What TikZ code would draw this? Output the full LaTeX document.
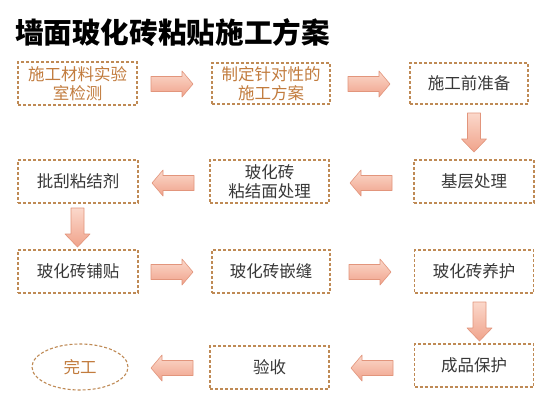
\documentclass[tikz,border=0pt]{standalone}
\usepackage{fontspec}
\setmainfont{Noto Sans CJK SC}
\usetikzlibrary{calc,shapes.geometric}
\definecolor{boxline}{HTML}{BF8A55}
\definecolor{orangetext}{HTML}{C27C3E}
\definecolor{darktext}{HTML}{383838}
\definecolor{arrowtop}{HTML}{FBD8CB}
\definecolor{arrowbot}{HTML}{F0A38B}
\definecolor{arrowline}{HTML}{E2957C}
\tikzset{
  box/.style={draw=boxline, line width=1.1pt, dash pattern=on 3pt off 2pt,
    minimum width=119pt, minimum height=43pt, inner sep=0pt, align=center,
    text=darktext, font=\fontsize{16.5}{19.5}\selectfont},
  otext/.style={text=orangetext},
  endoval/.style={draw=boxline, line width=1.1pt, dash pattern=on 3pt off 2pt,
    ellipse, minimum width=96pt, minimum height=46pt, inner sep=0pt,
    text=orangetext, font=\fontsize{16.5}{19.5}\selectfont},
  barrowstyle/.style={draw=arrowline, line width=0.6pt, top color=arrowtop, bottom color=arrowbot, line join=round},
  titletext/.style={font=\fontsize{28.6}{32}\selectfont\bfseries, text=black, inner sep=0pt, anchor=west}
}
\newcommand\blockarrow[6]{%
  \path[barrowstyle, shift={(#1)}, rotate=#2]
    (0,-#4) -- ({#3-#6},-#4) -- ({#3-#6},-#5) -- (#3,0) -- ({#3-#6},#5) -- ({#3-#6},#4) -- (0,#4) -- cycle;}
\begin{document}
\begin{tikzpicture}[x=1pt,y=-1pt]
\useasboundingbox[fill=white] (0,0) rectangle (554,405);
\node[titletext] (title) at (15,33) {墙面玻化砖粘贴施工方案};
% row 1
\node[box,otext] (b1) at (77.5,83.5) {施工材料实验\\室检测};
\node[box,otext,minimum width=118pt,minimum height=41pt] (b2) at (271,83.5) {制定针对性的\\施工方案};
\node[box,minimum width=118pt,minimum height=41pt] (b3) at (469,83.5) {施工前准备};
% row 2
\node[box,minimum width=120pt] (b4) at (474,181.5) {基层处理};
\node[box] (b5) at (269.5,181.5) {玻化砖\\粘结面处理};
\node[box,minimum width=120pt] (b6) at (78,181.5) {批刮粘结剂};
% row 3
\node[box,minimum width=120pt] (b7) at (78,271.5) {玻化砖铺贴};
\node[box,minimum width=118pt] (b8) at (271,271.5) {玻化砖嵌缝};
\node[box] (b9) at (474,271.5) {玻化砖养护};
% row 4
\node[box] (b10) at (474,365.5) {成品保护};
\node[box] (b11) at (269.5,367.5) {验收};
\node[endoval] (b12) at (80,367) {完工};
% arrow start points
\coordinate (a1) at (151,84);
\coordinate (a2) at (348,84);
\coordinate (a3) at (474,113);
\coordinate (a4) at (392,183);
\coordinate (a5) at (194,183);
\coordinate (a6) at (77.5,208);
\coordinate (a7) at (151,272);
\coordinate (a8) at (349,272);
\coordinate (a9) at (479.5,302);
\coordinate (a10) at (393,368);
\coordinate (a11) at (193,368);
\blockarrow{a1}{0}{42}{7.5}{13}{11}
\blockarrow{a2}{0}{42}{7.5}{13}{11}
\blockarrow{a3}{-90}{39}{6.5}{12.5}{13}
\blockarrow{a4}{180}{42}{7.5}{13}{11}
\blockarrow{a5}{180}{42}{7.5}{13}{11}
\blockarrow{a6}{-90}{39}{6.5}{12.5}{13}
\blockarrow{a7}{0}{42}{7.5}{13}{11}
\blockarrow{a8}{0}{42}{7.5}{13}{11}
\blockarrow{a9}{-90}{39}{6.5}{12.5}{13}
\blockarrow{a10}{180}{42}{7.5}{13}{11}
\blockarrow{a11}{180}{42}{7.5}{13}{11}
\end{tikzpicture}
\end{document}
